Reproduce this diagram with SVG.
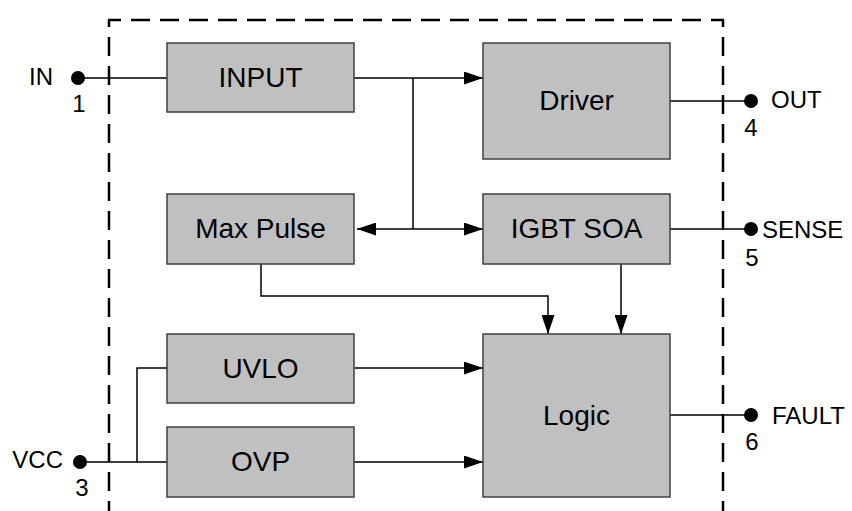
<svg xmlns="http://www.w3.org/2000/svg" width="852" height="511" viewBox="0 0 852 511">
<defs>
<style>
.box{fill:#c0c0c0;stroke:#404040;stroke-width:1.5}
.lbl{font-family:"Liberation Sans",Arial,sans-serif;font-size:28px;fill:#000;text-anchor:middle}
.pin{font-family:"Liberation Sans",Arial,sans-serif;font-size:24px;fill:#000}
.w{fill:none;stroke:#000;stroke-width:1.5}
.a{marker-end:url(#arr)}
.dot{fill:#000}
</style>
<marker id="arr" markerUnits="userSpaceOnUse" markerWidth="19" markerHeight="13" refX="19" refY="6.5" orient="auto">
<path d="M0,0 L19,6.5 L0,13 z" fill="#000"/>
</marker>
</defs>
<rect width="852" height="511" fill="#fff"/>
<path d="M109,511 V20 H723 V511" fill="none" stroke="#000" stroke-width="2.5" stroke-dasharray="19,10" stroke-dashoffset="9"/>
<g id="connectors">
<path class="w" d="M78,78 H167"/>
<path class="w a" d="M354,78 H483"/>
<path class="w" d="M413,78 V229"/>
<path class="w a" d="M413,229 H357"/>
<path class="w a" d="M413,229 H483"/>
<path class="w" d="M670,101 H751"/>
<path class="w" d="M670,229 H751"/>
<path class="w a" d="M261,264 V296 H548 V334"/>
<path class="w a" d="M621,264 V334"/>
<path class="w a" d="M354,368 H483"/>
<path class="w a" d="M354,462 H483"/>
<path class="w" d="M80,462 H167 M137,462 V368 H167"/>
<path class="w" d="M670,415 H751"/>
</g>
<g id="input"><rect class="box" x="167" y="43" width="187" height="69"/><text class="lbl" x="260.5" y="87">INPUT</text></g>
<g id="driver"><rect class="box" x="483" y="43" width="187" height="116"/><text class="lbl" x="576.5" y="110">Driver</text></g>
<g id="maxpulse"><rect class="box" x="167" y="194" width="187" height="70"/><text class="lbl" x="260.5" y="238">Max Pulse</text></g>
<g id="igbtsoa"><rect class="box" x="483" y="194" width="187" height="70"/><text class="lbl" x="576.5" y="238">IGBT SOA</text></g>
<g id="uvlo"><rect class="box" x="167" y="334" width="187" height="69"/><text class="lbl" x="260.5" y="378">UVLO</text></g>
<g id="ovp"><rect class="box" x="167" y="427" width="187" height="70"/><text class="lbl" x="260.5" y="471">OVP</text></g>
<g id="logic"><rect class="box" x="483" y="334" width="187" height="163"/><text class="lbl" x="576.5" y="425">Logic</text></g>
<g id="pin-in"><circle class="dot" cx="78" cy="78" r="7"/><text class="pin" x="53" y="85" text-anchor="end">IN</text><text class="pin" x="79" y="112" text-anchor="middle">1</text></g>
<g id="pin-out"><circle class="dot" cx="751" cy="101" r="7"/><text class="pin" x="771" y="108">OUT</text><text class="pin" x="751" y="136" text-anchor="middle">4</text></g>
<g id="pin-sense"><circle class="dot" cx="751" cy="229" r="7"/><text class="pin" x="762" y="238">SENSE</text><text class="pin" x="752" y="266" text-anchor="middle">5</text></g>
<g id="pin-fault"><circle class="dot" cx="751" cy="415" r="7"/><text class="pin" x="772" y="424">FAULT</text><text class="pin" x="752" y="450" text-anchor="middle">6</text></g>
<g id="pin-vcc"><circle class="dot" cx="80" cy="462" r="7"/><text class="pin" x="63" y="468" text-anchor="end">VCC</text><text class="pin" x="82" y="496" text-anchor="middle">3</text></g>
</svg>
